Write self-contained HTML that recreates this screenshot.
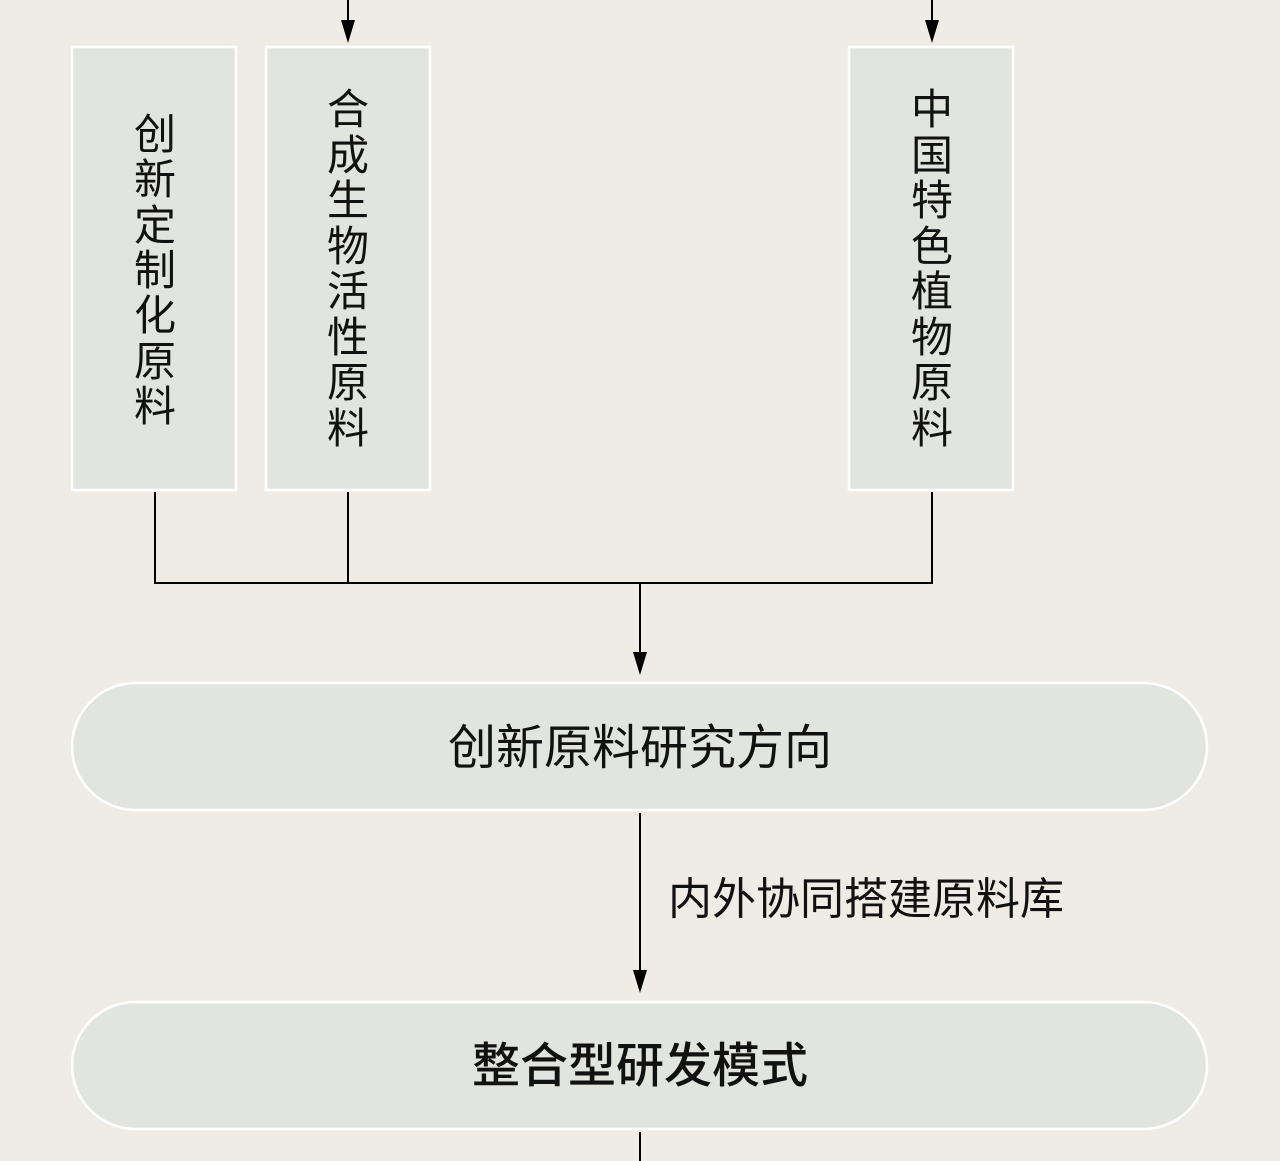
<!DOCTYPE html>
<html><head><meta charset="utf-8"><style>
html,body{margin:0;padding:0;background:#efece6;}
svg{display:block;}
text{font-family:"Liberation Sans","Noto Sans CJK SC",sans-serif;fill:#111;}
</style></head><body>
<svg width="1280" height="1161" viewBox="0 0 1280 1161" xmlns="http://www.w3.org/2000/svg">
<rect width="1280" height="1161" fill="#efece6"/>
<g fill="#e2e5df" stroke="#fff" stroke-width="2.5">
<rect x="72" y="47" width="164" height="443"/>
<rect x="266" y="47" width="164" height="443"/>
<rect x="849" y="47" width="164" height="443"/>
<rect x="72" y="683" width="1135" height="127" rx="63.5"/>
<rect x="72" y="1002" width="1135" height="127" rx="63.5"/>
</g>
<g stroke="#000" stroke-width="2" fill="none">
<line x1="348" y1="0" x2="348" y2="30"/>
<line x1="932" y1="0" x2="932" y2="30"/>
<polyline points="155,492 155,583 932,583 932,492"/>
<line x1="348" y1="492" x2="348" y2="583"/>
<line x1="640" y1="583" x2="640" y2="660"/>
<line x1="640" y1="813" x2="640" y2="978"/>
<line x1="640" y1="1132" x2="640" y2="1161"/>
</g>
<g fill="#000">
<path d="M341,20 L355,20 L348,43 Z"/>
<path d="M925,20 L939,20 L932,43 Z"/>
<path d="M633,652 L647,652 L640,675 Z"/>
<path d="M633,970 L647,970 L640,993 Z"/>
</g>
<g font-size="42" text-anchor="middle">
<text x="155"><tspan x="155" y="149">创</tspan><tspan x="155" y="194">新</tspan><tspan x="155" y="240">定</tspan><tspan x="155" y="285">制</tspan><tspan x="155" y="330">化</tspan><tspan x="155" y="376">原</tspan><tspan x="155" y="421">料</tspan></text>
<text x="348"><tspan x="348" y="124">合</tspan><tspan x="348" y="170">成</tspan><tspan x="348" y="215">生</tspan><tspan x="348" y="261">物</tspan><tspan x="348" y="306">活</tspan><tspan x="348" y="352">性</tspan><tspan x="348" y="397">原</tspan><tspan x="348" y="443">料</tspan></text>
<text x="932"><tspan x="932" y="124">中</tspan><tspan x="932" y="170">国</tspan><tspan x="932" y="215">特</tspan><tspan x="932" y="261">色</tspan><tspan x="932" y="306">植</tspan><tspan x="932" y="352">物</tspan><tspan x="932" y="397">原</tspan><tspan x="932" y="443">料</tspan></text>
</g>
<text x="640" y="764" font-size="48" text-anchor="middle">创新原料研究方向</text>
<text x="640" y="1082" font-size="48" text-anchor="middle" font-weight="500">整合型研发模式</text>
<text x="668" y="914" font-size="44">内外协同搭建原料库</text>
</svg>
</body></html>
